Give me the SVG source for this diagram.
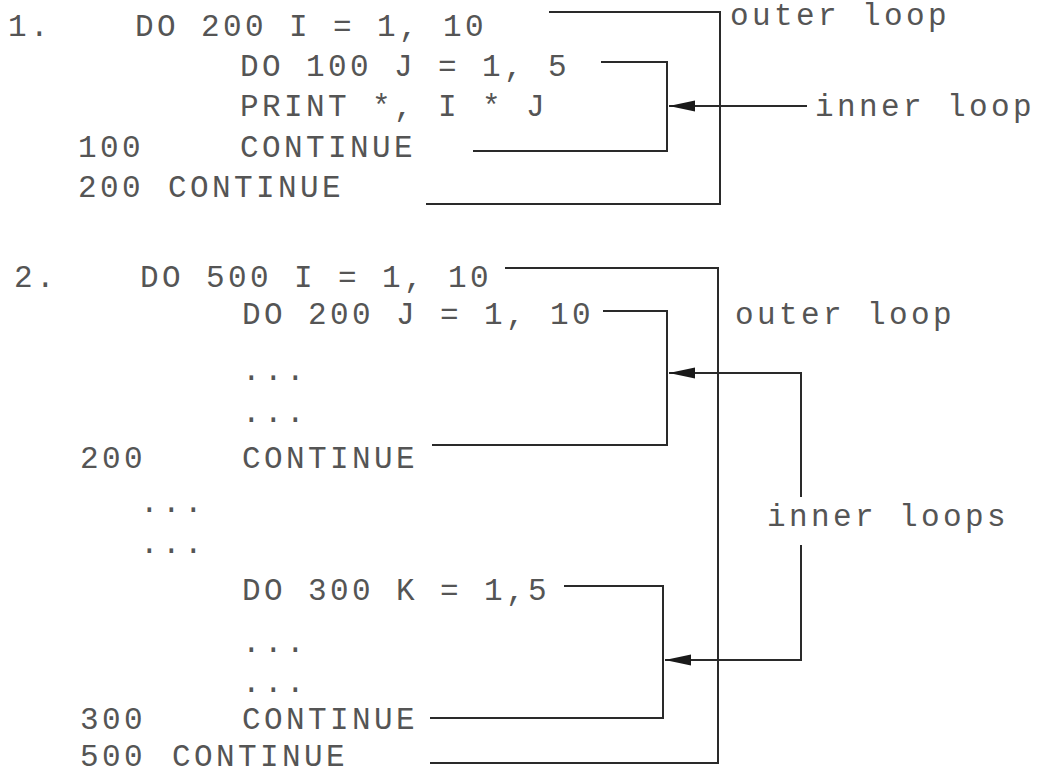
<svg xmlns="http://www.w3.org/2000/svg" width="1041" height="774" viewBox="0 0 1041 774">
<style>
  text { font-family: "Liberation Mono", "DejaVu Sans Mono", monospace; font-size: 31px; letter-spacing: 3.4px; fill: #555555; }
  .ln { fill: none; stroke: #2a2a2a; stroke-width: 2; }
</style>
<defs>
  <marker id="ah" viewBox="0 0 26 12" refX="26" refY="6" markerWidth="26" markerHeight="12" markerUnits="userSpaceOnUse" orient="auto">
    <path d="M0,0.5 L26,6 L0,11.5 Z" fill="#1a1a1a"/>
  </marker>
</defs>
<rect width="1041" height="774" fill="#ffffff"/>

<g id="code1">
  <text x="8" y="36">1.</text>
  <text x="135" y="36">DO 200 I = 1, 10</text>
  <text x="240" y="76">DO 100 J = 1, 5</text>
  <text x="240" y="116">PRINT *, I * J</text>
  <text x="78" y="157">100</text>
  <text x="240" y="157">CONTINUE</text>
  <text x="78" y="197">200</text>
  <text x="168" y="197">CONTINUE</text>
</g>

<g id="code2">
  <text x="14" y="287">2.</text>
  <text x="140" y="287">DO 500 I = 1, 10</text>
  <text x="242" y="324">DO 200 J = 1, 10</text>
  <text x="242" y="380">...</text>
  <text x="242" y="422">...</text>
  <text x="80" y="468">200</text>
  <text x="242" y="468">CONTINUE</text>
  <text x="140" y="512">...</text>
  <text x="140" y="553">...</text>
  <text x="242" y="600">DO 300 K = 1,5</text>
  <text x="242" y="652">...</text>
  <text x="242" y="692">...</text>
  <text x="80" y="729">300</text>
  <text x="242" y="729">CONTINUE</text>
  <text x="80" y="766">500</text>
  <text x="172" y="766">CONTINUE</text>
</g>

<g id="labels">
  <text x="730" y="25">outer loop</text>
  <text x="815" y="116">inner loop</text>
  <text x="735" y="324">outer loop</text>
  <text x="767" y="526">inner loops</text>
</g>

<g id="connectors">
  <path class="ln" d="M549 12 H720 V204 H426"/>
  <path class="ln" d="M601 62 H667 V151 H473"/>
  <path class="ln" d="M807 106 H669" marker-end="url(#ah)"/>

  <path class="ln" d="M505 268 H718 V763 H430"/>
  <path class="ln" d="M603 311 H667 V445 H432"/>
  <path class="ln" d="M801 497 V373 H669" marker-end="url(#ah)"/>
  <path class="ln" d="M564 586 H663 V718 H430"/>
  <path class="ln" d="M801 545 V660 H665" marker-end="url(#ah)"/>
</g>
</svg>
